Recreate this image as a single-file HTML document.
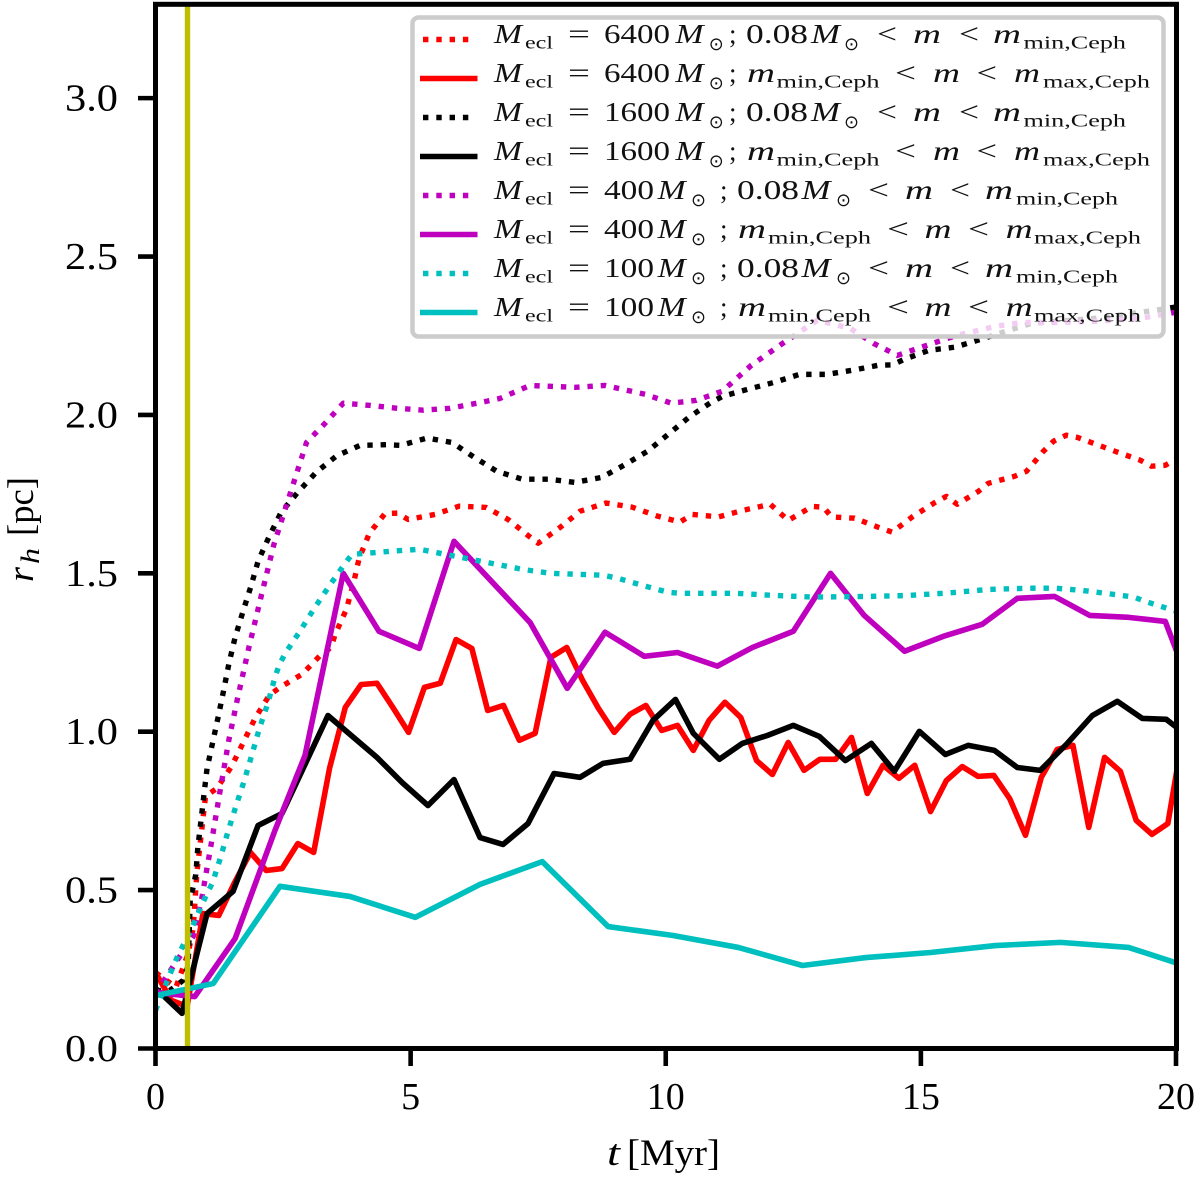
<!DOCTYPE html>
<html lang="en">
<head>
<meta charset="utf-8">
<title>Half-mass radius versus time</title>
<style>
html,body{margin:0;padding:0;background:#fff;}
svg{display:block;}
text{font-family:"Liberation Serif","DejaVu Serif",serif;fill:#000;}
.tick-label{font-size:38px;}
.axis-title{font-size:37px;}
.legend-text{font-size:27px;fill:#111;}
.i{font-style:italic;}
.s{font-size:18px;}
.u{font-family:"DejaVu Sans",sans-serif;font-size:18px;}
</style>
</head>
<body>
<svg id="chart" width="1200" height="1180" viewBox="0 0 1200 1180" xmlns="http://www.w3.org/2000/svg">
  <defs>
    <clipPath id="plot-clip"><rect x="155.5" y="4" width="1020.5" height="1044.5"/></clipPath>
  </defs>
  <rect x="0" y="0" width="1200" height="1180" fill="#fff"/>
  <g id="marks" clip-path="url(#plot-clip)"></g>
  <g id="axes"></g>

  <text class="axis-title" transform="translate(33,0) rotate(-90)"><tspan class="i" x="-582" y="0" textLength="15">r</tspan><tspan class="i" style="font-size:26px" x="-564" y="6" textLength="16">h</tspan><tspan x="-536" y="0" textLength="59">[pc]</tspan></text>
  <text class="axis-title"><tspan class="i" x="607" y="1165" textLength="13">t</tspan><tspan x="627" y="1165" textLength="93">[Myr]</tspan></text>

  <g>
    <rect x="412.5" y="17.5" width="751" height="319" rx="6" ry="6" fill="#fff" fill-opacity="0.8" stroke="#cccccc" stroke-width="4.5"/>

    <g>
      <line x1="423" y1="39.5" x2="470" y2="39.5" stroke="#ff0000" stroke-width="5.4" stroke-dasharray="5.4 7.9"/>
      <text class="legend-text"><tspan class="i" x="494" y="43" textLength="28">M</tspan><tspan class="s" x="525" y="48.5" textLength="28">ecl</tspan><tspan x="568" y="43" textLength="22">=</tspan><tspan x="604" y="43" textLength="66">6400</tspan><tspan class="i" x="675.5" y="43" textLength="28">M</tspan><tspan class="u" x="708.7" y="50" textLength="15">⊙</tspan><tspan x="729" y="43">;</tspan><tspan x="746" y="43" textLength="62">0.08</tspan><tspan class="i" x="811" y="43" textLength="29">M</tspan><tspan class="u" x="844" y="50" textLength="15">⊙</tspan><tspan x="877" y="43" textLength="20">&lt;</tspan><tspan class="i" x="913" y="43" textLength="28">m</tspan><tspan x="959" y="43" textLength="20">&lt;</tspan><tspan class="i" x="993" y="43" textLength="28">m</tspan><tspan class="s" x="1023.5" y="48.5" textLength="102.5">min,Ceph</tspan></text>
    </g>
    <g transform="translate(0,39)">
      <line x1="420" y1="39.5" x2="477.5" y2="39.5" stroke="#ff0000" stroke-width="5.6"/>
      <text class="legend-text"><tspan class="i" x="494" y="43" textLength="28">M</tspan><tspan class="s" x="525" y="48.5" textLength="28">ecl</tspan><tspan x="568" y="43" textLength="22">=</tspan><tspan x="604" y="43" textLength="66">6400</tspan><tspan class="i" x="675.5" y="43" textLength="28">M</tspan><tspan class="u" x="708.7" y="50" textLength="15">⊙</tspan><tspan x="729" y="43">;</tspan><tspan class="i" x="747" y="43" textLength="28">m</tspan><tspan class="s" x="776.5" y="48.5" textLength="103">min,Ceph</tspan><tspan x="895" y="43" textLength="21">&lt;</tspan><tspan class="i" x="933" y="43" textLength="27">m</tspan><tspan x="976.5" y="43" textLength="20.5">&lt;</tspan><tspan class="i" x="1014" y="43" textLength="26">m</tspan><tspan class="s" x="1043" y="48.5" textLength="107">max,Ceph</tspan></text>
    </g>
    <g transform="translate(0,78)">
      <line x1="423" y1="39.5" x2="470" y2="39.5" stroke="#000000" stroke-width="5.4" stroke-dasharray="5.4 7.9"/>
      <text class="legend-text"><tspan class="i" x="494" y="43" textLength="28">M</tspan><tspan class="s" x="525" y="48.5" textLength="28">ecl</tspan><tspan x="568" y="43" textLength="22">=</tspan><tspan x="604" y="43" textLength="66">1600</tspan><tspan class="i" x="675.5" y="43" textLength="28">M</tspan><tspan class="u" x="708.7" y="50" textLength="15">⊙</tspan><tspan x="729" y="43">;</tspan><tspan x="746" y="43" textLength="62">0.08</tspan><tspan class="i" x="811" y="43" textLength="29">M</tspan><tspan class="u" x="844" y="50" textLength="15">⊙</tspan><tspan x="877" y="43" textLength="20">&lt;</tspan><tspan class="i" x="913" y="43" textLength="28">m</tspan><tspan x="959" y="43" textLength="20">&lt;</tspan><tspan class="i" x="993" y="43" textLength="28">m</tspan><tspan class="s" x="1023.5" y="48.5" textLength="102.5">min,Ceph</tspan></text>
    </g>
    <g transform="translate(0,117)">
      <line x1="420" y1="39.5" x2="477.5" y2="39.5" stroke="#000000" stroke-width="5.6"/>
      <text class="legend-text"><tspan class="i" x="494" y="43" textLength="28">M</tspan><tspan class="s" x="525" y="48.5" textLength="28">ecl</tspan><tspan x="568" y="43" textLength="22">=</tspan><tspan x="604" y="43" textLength="66">1600</tspan><tspan class="i" x="675.5" y="43" textLength="28">M</tspan><tspan class="u" x="708.7" y="50" textLength="15">⊙</tspan><tspan x="729" y="43">;</tspan><tspan class="i" x="747" y="43" textLength="28">m</tspan><tspan class="s" x="776.5" y="48.5" textLength="103">min,Ceph</tspan><tspan x="895" y="43" textLength="21">&lt;</tspan><tspan class="i" x="933" y="43" textLength="27">m</tspan><tspan x="976.5" y="43" textLength="20.5">&lt;</tspan><tspan class="i" x="1014" y="43" textLength="26">m</tspan><tspan class="s" x="1043" y="48.5" textLength="107">max,Ceph</tspan></text>
    </g>
    <g transform="translate(0,156)">
      <line x1="423" y1="39.5" x2="470" y2="39.5" stroke="#bf00bf" stroke-width="5.4" stroke-dasharray="5.4 7.9"/>
      <text class="legend-text"><tspan class="i" x="494" y="43" textLength="28">M</tspan><tspan class="s" x="525" y="48.5" textLength="28">ecl</tspan><tspan x="568" y="43" textLength="22">=</tspan><tspan x="604" y="43" textLength="50">400</tspan><tspan class="i" x="657.6" y="43" textLength="28">M</tspan><tspan class="u" x="691" y="50" textLength="15">⊙</tspan><tspan x="720" y="43">;</tspan><tspan x="737" y="43" textLength="62">0.08</tspan><tspan class="i" x="801.5" y="43" textLength="29">M</tspan><tspan class="u" x="836" y="50" textLength="15">⊙</tspan><tspan x="868" y="43" textLength="21">&lt;</tspan><tspan class="i" x="905" y="43" textLength="28">m</tspan><tspan x="950" y="43" textLength="20">&lt;</tspan><tspan class="i" x="985" y="43" textLength="28">m</tspan><tspan class="s" x="1016" y="48.5" textLength="102">min,Ceph</tspan></text>
    </g>
    <g transform="translate(0,195)">
      <line x1="420" y1="39.5" x2="477.5" y2="39.5" stroke="#bf00bf" stroke-width="5.6"/>
      <text class="legend-text"><tspan class="i" x="494" y="43" textLength="28">M</tspan><tspan class="s" x="525" y="48.5" textLength="28">ecl</tspan><tspan x="568" y="43" textLength="22">=</tspan><tspan x="604" y="43" textLength="50">400</tspan><tspan class="i" x="657.6" y="43" textLength="28">M</tspan><tspan class="u" x="691" y="50" textLength="15">⊙</tspan><tspan x="720" y="43">;</tspan><tspan class="i" x="738" y="43" textLength="28">m</tspan><tspan class="s" x="768" y="48.5" textLength="103">min,Ceph</tspan><tspan x="887" y="43" textLength="22">&lt;</tspan><tspan class="i" x="924.5" y="43" textLength="27">m</tspan><tspan x="968" y="43" textLength="21">&lt;</tspan><tspan class="i" x="1005.6" y="43" textLength="27">m</tspan><tspan class="s" x="1034" y="48.5" textLength="107">max,Ceph</tspan></text>
    </g>
    <g transform="translate(0,234)">
      <line x1="423" y1="39.5" x2="470" y2="39.5" stroke="#00bfbf" stroke-width="5.4" stroke-dasharray="5.4 7.9"/>
      <text class="legend-text"><tspan class="i" x="494" y="43" textLength="28">M</tspan><tspan class="s" x="525" y="48.5" textLength="28">ecl</tspan><tspan x="568" y="43" textLength="22">=</tspan><tspan x="604" y="43" textLength="50">100</tspan><tspan class="i" x="657.6" y="43" textLength="28">M</tspan><tspan class="u" x="691" y="50" textLength="15">⊙</tspan><tspan x="720" y="43">;</tspan><tspan x="737" y="43" textLength="62">0.08</tspan><tspan class="i" x="801.5" y="43" textLength="29">M</tspan><tspan class="u" x="836" y="50" textLength="15">⊙</tspan><tspan x="868" y="43" textLength="21">&lt;</tspan><tspan class="i" x="905" y="43" textLength="28">m</tspan><tspan x="950" y="43" textLength="20">&lt;</tspan><tspan class="i" x="985" y="43" textLength="28">m</tspan><tspan class="s" x="1016" y="48.5" textLength="102">min,Ceph</tspan></text>
    </g>
    <g transform="translate(0,273)">
      <line x1="420" y1="39.5" x2="477.5" y2="39.5" stroke="#00bfbf" stroke-width="5.6"/>
      <text class="legend-text"><tspan class="i" x="494" y="43" textLength="28">M</tspan><tspan class="s" x="525" y="48.5" textLength="28">ecl</tspan><tspan x="568" y="43" textLength="22">=</tspan><tspan x="604" y="43" textLength="50">100</tspan><tspan class="i" x="657.6" y="43" textLength="28">M</tspan><tspan class="u" x="691" y="50" textLength="15">⊙</tspan><tspan x="720" y="43">;</tspan><tspan class="i" x="738" y="43" textLength="28">m</tspan><tspan class="s" x="768" y="48.5" textLength="103">min,Ceph</tspan><tspan x="887" y="43" textLength="22">&lt;</tspan><tspan class="i" x="924.5" y="43" textLength="27">m</tspan><tspan x="968" y="43" textLength="21">&lt;</tspan><tspan class="i" x="1005.6" y="43" textLength="27">m</tspan><tspan class="s" x="1034" y="48.5" textLength="107">max,Ceph</tspan></text>
    </g>
  </g>
</svg>

<script>
// Tick values and labels
const xTickValues = [0, 5, 10, 15, 20];
const xTickLabels = ['0', '5', '10', '15', '20'];
const yTickValues = [0, 0.5, 1, 1.5, 2, 2.5, 3];
const yTickLabels = ['0.0', '0.5', '1.0', '1.5', '2.0', '2.5', '3.0'];

// Axis limits
const xLimits = [0, 20];
const yLimits = [0, 3.3];

// Vertical marker time (Myr)
const markerTime = 0.627;

// M_ecl = 6400, low-mass stars (dotted)
const red6400LowTime = [0,0.40,0.64,0.74,0.81,0.98,1.20,1.49,1.72,1.95,2.23,2.44,2.87,3.23,3.44,3.52,3.74,3.88,3.99,4.19,4.50,4.74,4.95,5.48,5.95,6.48,6.91,7.32,7.50,7.93,8.32,8.83,9.34,9.83,10.28,10.52,11.03,11.52,12.05,12.40,12.87,13.09,13.25,13.70,14.17,14.44,14.83,15.28,15.50,15.71,16.13,16.32,16.83,17.07,17.40,17.60,17.85,18.07,18.81,19.30,19.52,19.79,20.09];
const red6400LowRadius = [0.240,0.193,0.300,0.382,0.553,0.796,0.821,0.890,0.966,1.042,1.115,1.140,1.181,1.241,1.266,1.307,1.386,1.468,1.547,1.626,1.689,1.690,1.670,1.686,1.712,1.708,1.670,1.617,1.595,1.645,1.696,1.722,1.709,1.681,1.662,1.686,1.678,1.699,1.718,1.667,1.711,1.709,1.678,1.674,1.645,1.630,1.678,1.724,1.743,1.718,1.759,1.784,1.806,1.822,1.885,1.917,1.936,1.929,1.885,1.857,1.838,1.841,1.869];

// M_ecl = 6400, Cepheid-mass stars (solid, regular output step)
const red6400CephStep = 0.31;
const red6400CephRadius = [0.240,0.152,0.133,0.426,0.420,0.524,0.619,0.562,0.568,0.647,0.619,0.884,1.077,1.149,1.153,1.077,0.998,1.140,1.153,1.291,1.263,1.067,1.083,0.973,0.995,1.235,1.266,1.162,1.074,0.998,1.055,1.083,1.004,1.020,0.941,1.036,1.093,1.045,0.909,0.865,0.966,0.878,0.913,0.913,0.982,0.805,0.894,0.853,0.894,0.748,0.846,0.890,0.859,0.862,0.789,0.673,0.856,0.944,0.957,0.698,0.919,0.875,0.720,0.676,0.710,1.004];

// M_ecl = 1600, low-mass stars (dotted)
const black1600LowTime = [0,0.28,0.54,0.64,0.68,0.79,0.83,0.89,0.95,1.01,1.12,1.23,1.34,1.44,1.56,1.71,1.87,2.01,2.23,2.46,2.79,3.15,3.55,4.01,4.53,4.81,5.32,5.81,6.25,6.69,7.19,7.70,8.22,8.75,9.21,9.64,10.05,10.45,10.89,11.12,11.61,12.13,12.62,13.15,13.66,14.17,14.44,14.68,15.16,15.67,16.18,16.66,17.17,18.42,19.66,20.09];
const black1600LowRadius = [0.183,0.183,0.215,0.262,0.467,0.549,0.635,0.717,0.802,0.884,0.966,1.048,1.134,1.216,1.298,1.377,1.459,1.538,1.617,1.692,1.756,1.819,1.871,1.904,1.906,1.904,1.927,1.913,1.866,1.822,1.797,1.797,1.787,1.803,1.844,1.885,1.939,1.992,2.040,2.059,2.081,2.103,2.128,2.128,2.141,2.157,2.158,2.176,2.204,2.214,2.239,2.264,2.289,2.305,2.332,2.343];

// M_ecl = 1600, Cepheid-mass stars (solid)
const black1600CephTime = [0,0.52,1.01,1.52,2.01,2.48,3.38,4.34,4.83,5.34,5.85,6.36,6.81,7.30,7.81,8.32,8.77,9.30,9.75,10.19,10.54,11.05,11.50,11.99,12.50,13.01,13.52,14.03,14.48,14.97,15.48,15.93,16.44,16.89,17.34,17.87,18.36,18.85,19.34,19.81,20.09];
const black1600CephRadius = [0.190,0.111,0.426,0.496,0.704,0.742,1.051,0.919,0.840,0.767,0.849,0.666,0.644,0.710,0.868,0.856,0.900,0.913,1.036,1.102,0.995,0.913,0.963,0.988,1.020,0.985,0.909,0.963,0.875,1.001,0.928,0.957,0.941,0.887,0.878,0.963,1.051,1.096,1.042,1.039,1.004];

// M_ecl = 400, low-mass stars (dotted)
const purple400LowTime = [0,0.32,0.74,0.91,1.09,1.26,1.44,1.60,1.83,2.07,2.32,2.64,2.96,3.32,3.68,4.21,4.74,5.25,5.77,6.30,6.75,7.34,8.23,8.81,9.60,10.11,10.60,11.11,11.68,12.32,12.97,13.62,14.07,14.54,15.23,15.70,16.48,16.99,17.68,18.50,19.30,20.00];
const purple400LowRadius = [0.174,0.253,0.354,0.477,0.644,0.808,0.976,1.099,1.266,1.427,1.591,1.752,1.913,1.973,2.037,2.030,2.021,2.015,2.021,2.037,2.052,2.093,2.087,2.093,2.065,2.037,2.046,2.075,2.157,2.229,2.299,2.273,2.226,2.188,2.226,2.251,2.280,2.292,2.292,2.296,2.305,2.324];

// M_ecl = 400, Cepheid-mass stars (solid)
const purple400CephTime = [0,0.77,1.56,2.34,2.93,3.68,4.38,5.17,5.85,7.34,8.07,8.81,9.58,10.23,11.01,11.70,12.50,13.23,13.89,14.68,15.44,16.20,16.89,17.62,18.31,19.07,19.79,20.20];
const purple400CephRadius = [0.177,0.164,0.347,0.688,0.925,1.500,1.317,1.263,1.601,1.345,1.137,1.314,1.238,1.250,1.207,1.266,1.317,1.500,1.367,1.254,1.301,1.339,1.421,1.427,1.367,1.361,1.348,1.175];

// M_ecl = 100, low-mass stars (dotted)
const cyan100LowTime = [0,0.24,0.44,0.68,1.00,1.12,1.28,1.42,1.58,1.74,1.89,2.03,2.20,2.34,2.42,2.54,2.83,3.11,3.40,3.70,3.85,4.11,4.64,5.17,5.68,6.19,6.70,7.21,7.74,8.26,8.77,9.05,9.54,10.05,10.28,11.36,12.15,12.89,13.97,14.75,15.54,16.32,17.11,17.64,18.17,18.95,19.19,19.44,19.95,20.09];
const cyan100LowRadius = [0.120,0.218,0.294,0.369,0.486,0.524,0.606,0.685,0.767,0.846,0.928,1.007,1.089,1.171,1.209,1.247,1.317,1.389,1.459,1.528,1.560,1.563,1.570,1.576,1.560,1.544,1.528,1.512,1.500,1.497,1.494,1.485,1.462,1.440,1.437,1.437,1.430,1.425,1.427,1.430,1.438,1.449,1.453,1.453,1.446,1.430,1.424,1.409,1.383,1.377];

// M_ecl = 100, Cepheid-mass stars (solid)
const cyan100CephTime = [0,1.13,2.44,3.81,5.09,6.36,7.58,8.87,10.13,11.42,12.68,13.92,15.19,16.46,17.74,19.07,20.28];
const cyan100CephRadius = [0.167,0.205,0.512,0.480,0.414,0.518,0.590,0.385,0.357,0.319,0.262,0.287,0.303,0.325,0.335,0.319,0.256];

const SVG_NS = 'http://www.w3.org/2000/svg';
const plotLeft = 155.5, plotRight = 1176, plotTop = 3.1, plotBottom = 1048.5;

function xScale(t) {
  return plotLeft + (t - xLimits[0]) / (xLimits[1] - xLimits[0]) * (plotRight - plotLeft);
}
function yScale(r) {
  return plotBottom - (r - yLimits[0]) / (yLimits[1] - yLimits[0]) * (plotBottom - plotTop);
}
function pointsFrom(times, radii) {
  return radii.map(function (r, i) {
    return xScale(times[i]).toFixed(2) + ',' + yScale(r).toFixed(2);
  }).join(' ');
}

const marks = document.getElementById('marks');
const axes = document.getElementById('axes');

function addSeries(name, color, dashed, times, radii) {
  const el = document.createElementNS(SVG_NS, 'polyline');
  
  
  el.setAttribute('points', pointsFrom(times, radii));
  el.setAttribute('fill', 'none');
  el.setAttribute('stroke', color);
  el.setAttribute('stroke-linejoin', 'round');
  if (dashed) {
    el.setAttribute('stroke-width', '5.4');
    el.setAttribute('stroke-dasharray', '5.4 7.9');
  } else {
    el.setAttribute('stroke-width', '5.6');
  }
  marks.appendChild(el);
}

const red6400CephTime = red6400CephRadius.map(function (_, i) { return i * red6400CephStep; });

addSeries('series-6400-low-mass', '#ff0000', true, red6400LowTime, red6400LowRadius);
addSeries('series-6400-cepheid', '#ff0000', false, red6400CephTime, red6400CephRadius);
addSeries('series-1600-low-mass', '#000000', true, black1600LowTime, black1600LowRadius);
addSeries('series-1600-cepheid', '#000000', false, black1600CephTime, black1600CephRadius);
addSeries('series-400-low-mass', '#bf00bf', true, purple400LowTime, purple400LowRadius);
addSeries('series-400-cepheid', '#bf00bf', false, purple400CephTime, purple400CephRadius);
addSeries('series-100-low-mass', '#00bfbf', true, cyan100LowTime, cyan100LowRadius);
addSeries('series-100-cepheid', '#00bfbf', false, cyan100CephTime, cyan100CephRadius);

const marker = document.createElementNS(SVG_NS, 'line');


marker.setAttribute('x1', xScale(markerTime));
marker.setAttribute('x2', xScale(markerTime));
marker.setAttribute('y1', yScale(yLimits[0]));
marker.setAttribute('y2', yScale(yLimits[1]));
marker.setAttribute('stroke', '#bfbf00');
marker.setAttribute('stroke-width', '5.4');
marks.appendChild(marker);

const frame = document.createElementNS(SVG_NS, 'rect');


frame.setAttribute('x', plotLeft);
frame.setAttribute('y', 4.3);
frame.setAttribute('width', plotRight + 0.5 - plotLeft);
frame.setAttribute('height', plotBottom - 4.3);
frame.setAttribute('fill', 'none');
frame.setAttribute('stroke', '#000');
frame.setAttribute('stroke-width', '5');
axes.appendChild(frame);

xTickValues.forEach(function (v, i) {
  const tick = document.createElementNS(SVG_NS, 'line');
  
  
  tick.setAttribute('x1', xScale(v));
  tick.setAttribute('x2', xScale(v));
  tick.setAttribute('y1', plotBottom);
  tick.setAttribute('y2', plotBottom + 17.5);
  tick.setAttribute('stroke', '#000');
  tick.setAttribute('stroke-width', '4.6');
  axes.appendChild(tick);

  const label = document.createElementNS(SVG_NS, 'text');
  
  
  label.setAttribute('class', 'tick-label');
  label.setAttribute('x', xScale(v));
  label.setAttribute('y', 1109);
  label.setAttribute('text-anchor', 'middle');
  label.textContent = xTickLabels[i];
  axes.appendChild(label);
});

yTickValues.forEach(function (v, i) {
  const tick = document.createElementNS(SVG_NS, 'line');
  
  
  tick.setAttribute('x1', plotLeft - 17.5);
  tick.setAttribute('x2', plotLeft);
  tick.setAttribute('y1', yScale(v));
  tick.setAttribute('y2', yScale(v));
  tick.setAttribute('stroke', '#000');
  tick.setAttribute('stroke-width', '4.6');
  axes.appendChild(tick);

  const label = document.createElementNS(SVG_NS, 'text');
  
  
  label.setAttribute('class', 'tick-label');
  label.setAttribute('x', 65);
  label.setAttribute('y', yScale(v) + 12.5);
  label.setAttribute('textLength', '53');
  label.setAttribute('lengthAdjust', 'spacingAndGlyphs');
  label.textContent = yTickLabels[i];
  axes.appendChild(label);
});

// Fit every formula fragment to its measured width by scaling glyphs rather than adding gaps
document.querySelectorAll('tspan[textLength]').forEach(function (part) {
  part.setAttribute('lengthAdjust', 'spacingAndGlyphs');
});
</script>
</body>
</html>
